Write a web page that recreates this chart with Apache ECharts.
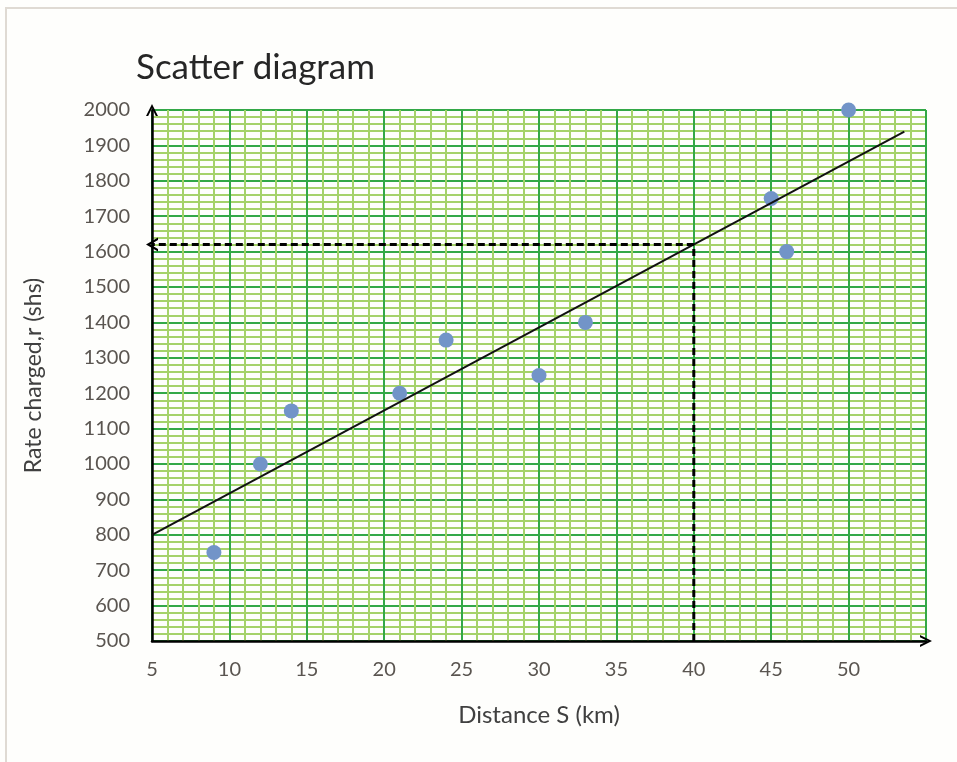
<!DOCTYPE html>
<html>
<head>
<meta charset="utf-8">
<script src="https://cdn.jsdelivr.net/npm/echarts@6/dist/echarts.min.js"></script>
<style>
  html, body { margin: 0; padding: 0; background: #fefefc; }
  #main { width: 957px; height: 762px; }
</style>
</head>
<body>
<div id="main"></div>
<script>
// distances (km) and rates (shs)
var distance = [9, 12, 14, 21, 24, 30, 33, 45, 46, 50];
var rate = [750, 1000, 1150, 1200, 1350, 1250, 1400, 1750, 1600, 2000];
// line of best fit, drawn by hand in the original
var fitLine = [[5, 800], [53.6, 1939]];
// reading off the estimate at S = 40
var readX = 40;
var readY = 1620;

var chevron = 'path://M0,10 L5,0 L10,10 L8.2,10 L5,3.6 L1.8,10 Z';

var chartDom = document.getElementById('main');
var myChart = echarts.init(chartDom);

var points = distance.map(function (d, i) { return [d, rate[i]]; });

var option = {
    animation: false,
    backgroundColor: '#fefefc',
    textStyle: { fontFamily: 'Lato' },
    title: {
        text: 'Scatter diagram',
        left: 131,
        top: 45,
        textStyle: { fontSize: 35, fontWeight: 'normal', color: '#262626', fontFamily: 'Lato' }
    },
    graphic: [{
        type: 'rect',
        shape: { x: 6, y: 8, width: 1000, height: 800 },
        style: { fill: 'none', stroke: '#dfdad3', lineWidth: 2 },
        silent: true
    }],
    grid: { left: 152, right: 31, top: 110, bottom: 121 },
    xAxis: {
        type: 'value',
        min: 5,
        max: 55,
        interval: 5,
        name: 'Distance S (km)',
        nameLocation: 'middle',
        nameGap: 62,
        nameTextStyle: { fontSize: 24, color: '#404040' },
        axisLine: {
            show: true,
            onZero: false,
            symbol: ['none', chevron],
            symbolSize: [14, 12],
            lineStyle: { color: '#000', width: 2.5 }
        },
        axisTick: { show: false },
        axisLabel: {
            fontSize: 20,
            color: '#5a5550',
            margin: 19,
            formatter: function (v) { return v === 55 ? '' : String(v); }
        },
        splitLine: { show: true, lineStyle: { color: '#33a847', width: 2 } },
        minorTick: { show: false, splitNumber: 5 },
        minorSplitLine: { show: true, lineStyle: { color: '#a5d26a', width: 2 } }
    },
    yAxis: {
        type: 'value',
        min: 500,
        max: 2000,
        interval: 100,
        name: 'Rate charged,r (shs)',
        nameLocation: 'middle',
        nameGap: 107,
        nameTextStyle: { fontSize: 23, color: '#404040' },
        axisLine: {
            show: true,
            onZero: false,
            symbol: ['none', chevron],
            symbolSize: [14, 12],
            lineStyle: { color: '#000', width: 2.5 }
        },
        axisTick: { show: false },
        axisLabel: {
            fontSize: 20,
            color: '#5a5550',
            margin: 22,
            formatter: function (v) { return String(v); }
        },
        splitLine: { show: true, lineStyle: { color: '#33a847', width: 2 } },
        minorTick: { show: false, splitNumber: 5 },
        minorSplitLine: { show: true, lineStyle: { color: '#a5d26a', width: 2 } }
    },
    series: [
        {
            name: 'reading',
            type: 'line',
            data: [[readX, 500], [readX, readY]],
            symbol: 'none',
            silent: true,
            lineStyle: { color: '#000', width: 3, type: [7, 4] },
            markLine: {
                silent: true,
                symbol: ['none', chevron],
                symbolSize: [14, 12],
                label: { show: false },
                lineStyle: { color: '#000', width: 3, type: [7, 4] },
                data: [[{ coord: [readX, readY] }, { coord: [5, readY] }]]
            }
        },
        {
            name: 'fit',
            type: 'line',
            data: fitLine,
            symbol: 'none',
            silent: true,
            lineStyle: { color: '#111', width: 2 }
        },
        {
            name: 'data',
            type: 'scatter',
            data: points,
            symbolSize: 15,
            itemStyle: { color: '#7294c8', opacity: 1 }
        }
    ]
};

option && myChart.setOption(option);
new ResizeObserver(() => myChart.resize()).observe(chartDom);
</script>
</body>
</html>
